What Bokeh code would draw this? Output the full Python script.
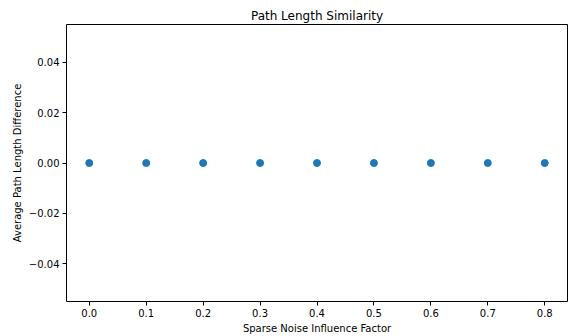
from bokeh.plotting import figure
from bokeh.models import FixedTicker, Range1d
from bokeh.embed import file_html
from bokeh.resources import INLINE

noise_factor = [0.0, 0.1, 0.2, 0.3, 0.4, 0.5, 0.6, 0.7, 0.8]
avg_diff = [0.0, 0.0, 0.0, 0.0, 0.0, 0.0, 0.0, 0.0, 0.0]
x_ticks = [0.0, 0.1, 0.2, 0.3, 0.4, 0.5, 0.6, 0.7, 0.8]
y_ticks = [-0.04, -0.02, 0.0, 0.02, 0.04]

FONT = "DejaVu Sans"

p = figure(width=573, height=336, output_backend="svg", toolbar_location=None,
           title="Path Length Similarity",
           x_range=Range1d(-0.04, 0.84), y_range=Range1d(-0.055, 0.055),
           min_border_left=66, min_border_right=6, min_border_top=24, min_border_bottom=34)

p.title.align = "center"
p.title.text_font = FONT
p.title.text_font_size = "12px"
p.title.text_font_style = "normal"
p.title.text_color = "black"
p.title.standoff = 4

p.grid.visible = False
p.outline_line_color = "black"
p.outline_line_width = 1

p.scatter(noise_factor, avg_diff, size=7, color="#1f77b4", line_color="#1f77b4")

p.xaxis.ticker = FixedTicker(ticks=x_ticks)
p.yaxis.ticker = FixedTicker(ticks=y_ticks)
p.xaxis.major_label_overrides = {t: f"{t:.1f}" for t in x_ticks}
p.yaxis.major_label_overrides = {t: (f"{t:.2f}".replace("-", "\u2212")) for t in y_ticks}

for ax in (p.xaxis[0], p.yaxis[0]):
    ax.axis_line_color = None
    ax.major_tick_line_color = "black"
    ax.major_tick_out = 4
    ax.major_tick_in = 0
    ax.minor_tick_line_color = None
    ax.major_label_text_font = FONT
    ax.major_label_text_font_size = "10px"
    ax.major_label_text_color = "black"
    ax.axis_label_text_font = FONT
    ax.axis_label_text_font_size = "10px"
    ax.axis_label_text_font_style = "normal"
    ax.axis_label_text_color = "black"
    ax.major_label_standoff = 3
    ax.axis_label_standoff = 3

p.xaxis.axis_label = "Sparse Noise Influence Factor"
p.yaxis.axis_label = "Average Path Length Difference"

open("out.html", "w").write(file_html(p, INLINE))
